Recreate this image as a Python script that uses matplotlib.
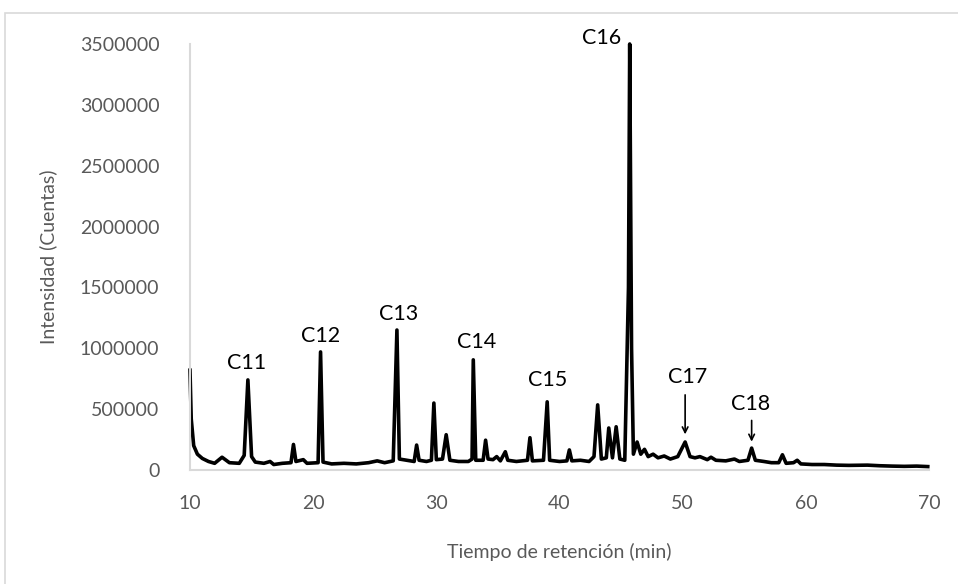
import matplotlib
matplotlib.use("Agg")
from matplotlib import pyplot as plt
from matplotlib.patches import Rectangle

plt.rcParams["font.family"] = ["Lato", "DejaVu Sans"]

# chromatogram trace (retention time in min, counts)
time_min = [10.0, 10.1, 10.3, 10.6, 11.0, 11.5, 12.0, 12.6, 13.2, 14.0,
            14.4, 14.7, 15.0, 15.3, 16.0, 16.5, 16.8, 17.5, 18.2, 18.4,
            18.6, 19.2, 19.5, 20.4, 20.6, 20.8, 21.5, 22.5, 23.5, 24.5,
            25.2, 25.8, 26.5, 26.8, 27.0, 27.6, 28.2, 28.4, 28.6, 29.2,
            29.6, 29.8, 30.0, 30.5, 30.8, 31.1, 31.8, 32.6, 32.9, 33.0,
            33.2, 33.8, 34.0, 34.2, 34.6, 34.9, 35.2, 35.6, 35.8, 36.5,
            37.4, 37.6, 37.8, 38.7, 39.0, 39.2, 40.0, 40.6, 40.8, 41.0,
            41.7, 42.4, 42.8, 43.1, 43.4, 43.8, 44.0, 44.3, 44.6, 44.9,
            45.3, 45.6, 45.7, 45.85, 46.0, 46.3, 46.6, 46.9, 47.2, 47.6,
            48.0, 48.5, 49.0, 49.6, 50.2, 50.6, 51.0, 51.4, 52.0, 52.3,
            52.7, 53.5, 54.2, 54.6, 55.3, 55.6, 55.9, 56.6, 57.2, 57.8,
            58.1, 58.4, 59.0, 59.3, 59.6, 60.5, 61.5, 62.5, 63.5, 65.0,
            66.0, 67.0, 68.0, 69.0, 69.9]
counts = [820000, 420000, 200000, 130000, 95000, 70000, 55000, 105000, 60000, 55000,
          120000, 740000, 110000, 65000, 55000, 70000, 45000, 55000, 60000, 210000,
          70000, 85000, 55000, 60000, 970000, 65000, 50000, 55000, 50000, 60000,
          75000, 60000, 75000, 1150000, 90000, 80000, 70000, 205000, 80000, 70000,
          80000, 550000, 85000, 90000, 290000, 80000, 70000, 70000, 90000, 905000,
          80000, 80000, 245000, 90000, 85000, 110000, 75000, 150000, 80000, 70000,
          80000, 265000, 75000, 80000, 560000, 80000, 70000, 75000, 165000, 75000,
          80000, 70000, 110000, 535000, 90000, 100000, 345000, 100000, 355000, 90000,
          80000, 1500000, 3500000, 1000000, 130000, 230000, 130000, 170000, 110000, 130000,
          100000, 115000, 90000, 110000, 230000, 110000, 100000, 110000, 85000, 105000,
          80000, 75000, 90000, 70000, 80000, 180000, 80000, 70000, 60000, 60000,
          125000, 55000, 60000, 80000, 50000, 45000, 45000, 40000, 38000, 40000,
          35000, 32000, 30000, 32000, 28000]

peak_labels = ["C11", "C12", "C13", "C14", "C15", "C16", "C17", "C18"]
label_x = [14.6, 20.6, 26.9, 33.3, 39.0, 43.4, 50.4, 55.5]
label_y = [800000, 1020000, 1200000, 970000, 655000, 3470000, 680000, 460000]

fig = plt.figure(figsize=(9.58, 5.84), dpi=100)
# light frame around the chart area
fig.patches.append(Rectangle((5 / 958, -0.1), 1.2, (584 - 13) / 584 + 0.1,
                             transform=fig.transFigure, fill=False,
                             edgecolor="#d9d9d9", linewidth=1.2))

ax = fig.add_axes([190 / 958, (584 - 470) / 584, (929 - 190) / 958, (470 - 44) / 584])
ax.plot(time_min, counts, color="black", linewidth=2.6, clip_on=False,
        solid_joinstyle="round")

ax.set_xlim(10, 70)
ax.set_ylim(0, 3500000)
ax.set_xticks(range(10, 71, 10))
ax.set_yticks(range(0, 3500001, 500000))
ax.set_yticklabels([str(v) for v in range(0, 3500001, 500000)])

for side in ["top", "right"]:
    ax.spines[side].set_visible(False)
for side in ["left", "bottom"]:
    ax.spines[side].set_color("#d9d9d9")
    ax.spines[side].set_linewidth(1.5)

ax.tick_params(axis="both", length=0, colors="#595959", labelsize=14)
ax.tick_params(axis="y", pad=22)
ax.tick_params(axis="x", pad=18)

ax.set_ylabel("Intensidad (Cuentas)", fontsize=14, color="#595959", labelpad=16)
ax.set_xlabel("Tiempo de retención (min)", fontsize=14, color="#595959", labelpad=22)

for name, x, y in zip(peak_labels, label_x, label_y):
    ax.text(x, y, name, ha="center", va="bottom", fontsize=15.5, color="black",
            clip_on=False)

# arrows for the small peaks
ax.annotate("", xy=(50.2, 270000), xytext=(50.2, 640000),
            arrowprops=dict(arrowstyle="->", color="black", lw=1.2))
ax.annotate("", xy=(55.6, 210000), xytext=(55.6, 430000),
            arrowprops=dict(arrowstyle="->", color="black", lw=1.2))

fig.savefig("out.png", dpi=100)
